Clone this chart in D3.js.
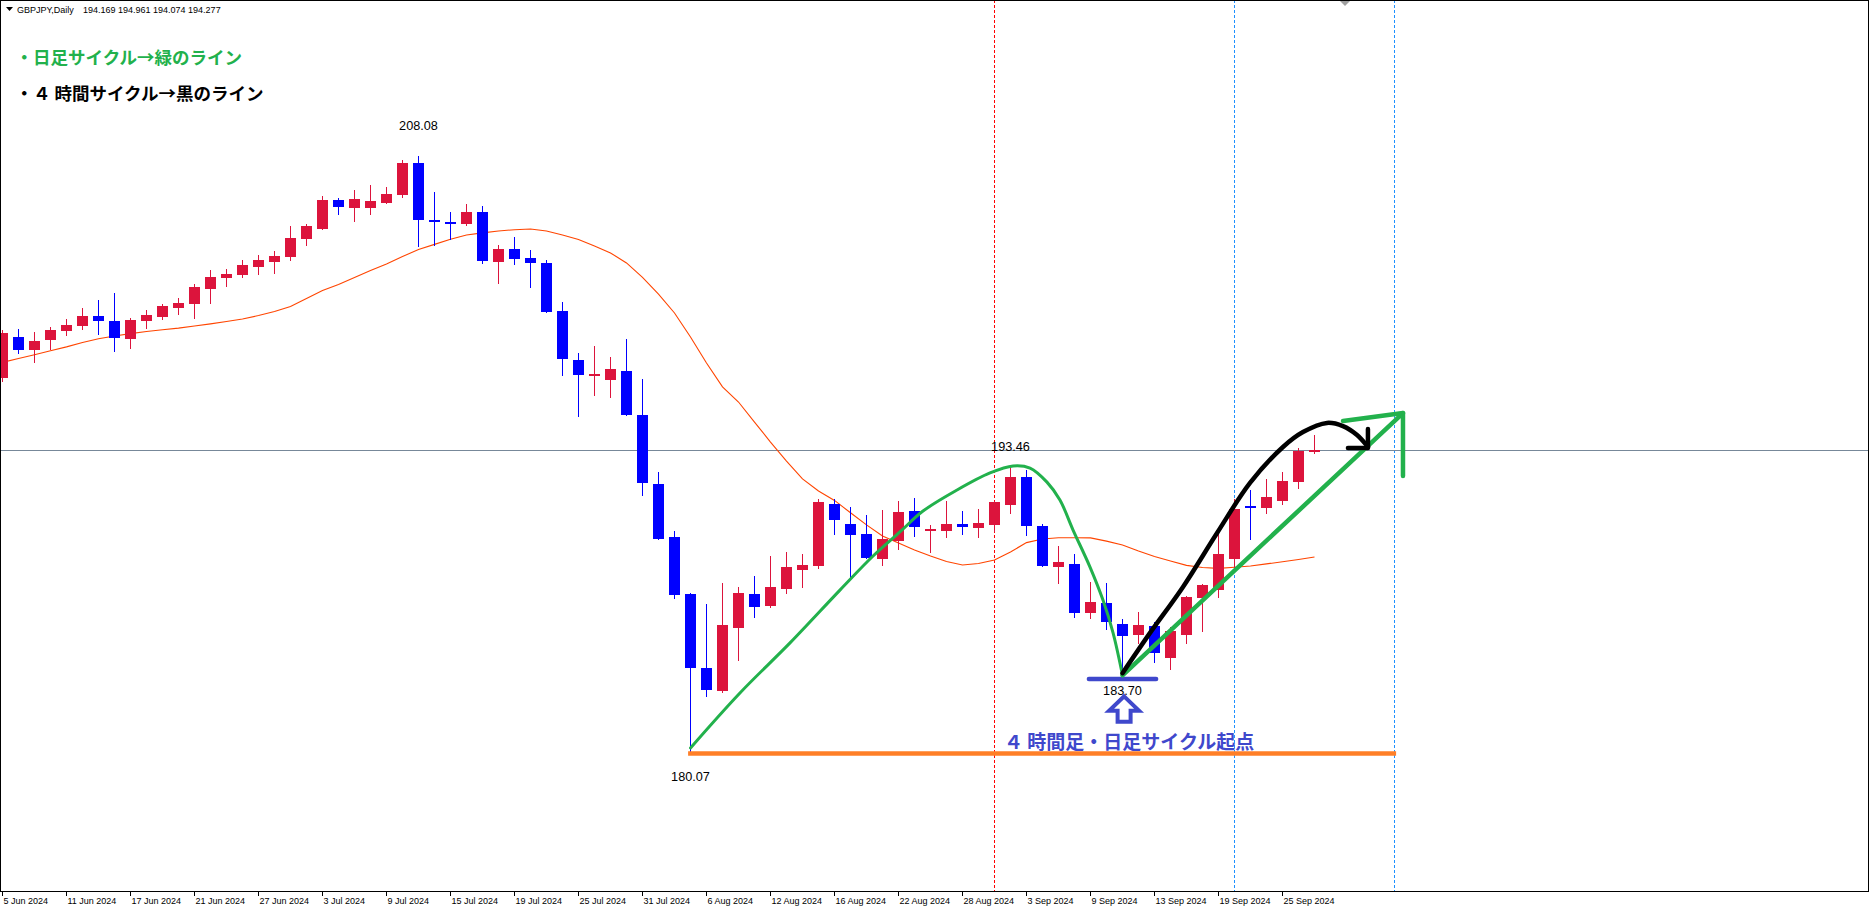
<!DOCTYPE html>
<html><head><meta charset="utf-8">
<script src="https://cdn.jsdelivr.net/npm/d3@7"></script>
<style>
html,body{margin:0;padding:0;background:#fff;overflow:hidden}
svg{display:block}
</style></head><body>
<svg id="c" width="1870" height="906"></svg>
<script>
// ---------------- DATA ----------------
const symbol = "GBPJPY,Daily";
const lastQuote = [194.169, 194.961, 194.074, 194.277];
const bidPrice = 194.277;

const dates = [
"2024-06-05","2024-06-06","2024-06-07","2024-06-10","2024-06-11","2024-06-12","2024-06-13","2024-06-14",
"2024-06-17","2024-06-18","2024-06-19","2024-06-20","2024-06-21","2024-06-24","2024-06-25","2024-06-26","2024-06-27","2024-06-28",
"2024-07-01","2024-07-02","2024-07-03","2024-07-04","2024-07-05","2024-07-08","2024-07-09","2024-07-10","2024-07-11","2024-07-12",
"2024-07-15","2024-07-16","2024-07-17","2024-07-18","2024-07-19","2024-07-22","2024-07-23","2024-07-24","2024-07-25","2024-07-26",
"2024-07-29","2024-07-30","2024-07-31","2024-08-01","2024-08-02","2024-08-05","2024-08-06","2024-08-07","2024-08-08","2024-08-09",
"2024-08-12","2024-08-13","2024-08-14","2024-08-15","2024-08-16","2024-08-19","2024-08-20","2024-08-21","2024-08-22","2024-08-23",
"2024-08-26","2024-08-27","2024-08-28","2024-08-29","2024-08-30","2024-09-02","2024-09-03","2024-09-04","2024-09-05","2024-09-06",
"2024-09-09","2024-09-10","2024-09-11","2024-09-12","2024-09-13","2024-09-16","2024-09-17","2024-09-18","2024-09-19","2024-09-20",
"2024-09-23","2024-09-24","2024-09-25","2024-09-26","2024-09-27"];

const open = [
197.64,199.58,198.99,199.46,199.88,200.11,200.57,200.33,199.50,200.35,
200.54,200.96,201.15,201.85,202.37,202.51,202.88,203.12,203.35,204.20,
204.67,206.01,205.65,205.65,205.89,206.25,207.75,205.09,204.98,204.90,
205.45,203.12,203.71,203.29,203.06,200.80,198.50,197.77,197.58,197.99,
195.92,192.68,190.19,187.52,184.04,182.98,185.93,187.52,186.97,187.77,
188.66,188.85,191.74,190.80,190.33,189.17,190.02,191.41,190.47,190.47,
190.80,190.63,190.77,191.71,193.01,190.71,188.80,188.93,186.64,187.09,
186.11,185.58,186.01,184.53,185.61,187.34,187.72,189.17,191.66,191.57,
191.90,192.79,194.169];
const high = [
199.91,199.96,199.82,200.05,200.43,200.94,201.32,201.65,200.46,200.85,
201.13,201.41,202.07,202.73,202.78,203.20,203.43,203.62,204.79,204.89,
206.20,206.11,206.48,206.72,206.62,207.89,208.08,206.39,205.45,205.83,
205.73,203.90,204.28,203.67,203.20,201.23,198.85,199.17,198.66,199.50,
197.61,193.24,190.47,187.56,187.06,188.03,187.85,188.36,189.30,189.49,
189.39,191.98,191.98,191.60,191.23,191.46,191.88,192.02,190.76,191.88,
191.41,191.51,191.90,193.46,193.34,190.80,189.77,189.39,188.08,188.03,
186.34,186.67,186.20,185.95,187.42,187.99,190.38,191.98,192.40,192.92,
193.24,194.38,194.961];
const low = [
197.47,198.78,198.36,198.99,199.63,199.91,199.68,198.89,199.03,199.96,
200.38,200.62,200.43,201.15,201.93,202.37,202.51,202.55,203.16,203.87,
204.62,205.31,205.00,205.31,205.84,206.11,203.82,203.87,204.15,204.81,
203.02,202.08,202.98,201.90,200.72,197.77,195.84,196.83,196.73,195.89,
192.13,190.05,187.30,180.07,182.69,182.88,184.39,186.40,186.87,187.53,
187.81,188.70,190.30,188.19,189.16,188.85,189.60,190.19,189.44,190.15,
190.29,190.15,190.44,191.29,190.25,188.80,188.00,186.40,186.33,185.83,
183.70,185.16,184.29,183.95,185.18,185.75,187.34,188.70,190.07,191.29,
191.71,192.46,194.074];
const close = [
199.76,198.99,199.39,199.91,200.15,200.57,200.35,199.55,200.38,200.62,
201.04,201.18,201.93,202.40,202.55,202.98,203.20,203.40,204.24,204.79,
206.01,205.70,206.06,205.97,206.30,207.75,205.09,205.04,204.89,205.45,
203.16,203.71,203.26,203.07,200.77,198.56,197.81,197.85,198.09,195.92,
192.74,190.11,187.48,184.06,183.02,186.06,187.56,186.92,187.85,188.78,
188.88,191.84,191.00,190.30,189.21,190.10,191.37,190.68,190.57,190.80,
190.66,190.85,191.84,193.02,190.72,188.85,189.02,186.64,187.14,186.22,
185.56,186.06,184.73,185.78,187.38,187.94,189.39,191.51,191.62,192.07,
192.82,194.23,194.277];
// moving average, one value per bar
const ma = [
198.39,198.57,198.75,198.94,199.12,199.32,199.50,199.63,199.74,199.84,
199.92,200.00,200.10,200.20,200.31,200.43,200.59,200.78,201.01,201.39,
201.77,202.05,202.38,202.70,203.01,203.36,203.69,203.93,204.17,204.37,
204.47,204.56,204.62,204.65,204.56,204.37,204.16,203.85,203.53,203.06,
202.38,201.60,200.71,199.58,198.36,197.24,196.53,195.59,194.65,193.76,
192.92,192.35,191.91,191.33,190.76,190.24,189.91,189.58,189.30,189.04,
188.88,188.95,189.11,189.49,189.93,190.10,190.16,190.16,190.15,190.00,
189.82,189.54,189.28,189.07,188.86,188.76,188.72,188.77,188.83,188.93,
189.03,189.14,189.25];

// labelled highs / lows
const priceLabels = [
  {i:26, p:208.08, text:"208.08"},
  {i:43, p:180.07, text:"180.07"},
  {i:63, p:193.46, text:"193.46"},
  {i:70, p:183.70, text:"183.70"}
];
const offLeftLabel = {i:-0.6, p:196.6, text:"197.43"};

// hand drawn annotations, in [bar index, price]
const dailyCycle = [[43,180.29],[46.09,182.87],[49.22,185.22],[52.34,187.70],[54.41,189.30],[56.09,190.43],
  [57.53,191.41],[59.66,192.40],[61.72,193.20],[63.16,193.53],[64.22,193.43],[65.28,192.77],[66.09,191.93],
  [66.91,190.52],[67.97,188.78],[68.78,187.23],[69.41,185.69],[70,183.70]];
const fourHourCycle = [[70,183.80],[71.72,185.69],[73.78,187.85],[75.91,190.38],[77.97,192.73],[80.03,194.42],
  [81.28,195.12],[82.78,195.55],[83.78,195.40],[84.66,194.98],[85.34,194.42]];
const fourHourHead = [[85.34,195.26],[85.34,194.37],[84.09,194.37]];
const trendLine = [[70,183.70],[87.53,196.01]];
const trendHead = [[83.78,195.64],[87.53,196.01],[87.53,193.06]];
const supportLine = [[42.85,180.03],[87.1,180.03]];
const lowMarker = [[67.9,183.53],[72.1,183.53]];
const redVLines = [62];
const blueVLines = [77, 87];
const arrowAnchor = {i:70.1, p:182.1};

const noteDaily = "・日足サイクル→緑のライン";
const noteFourHour = "・４ 時間サイクル→黒のライン";
const noteStart = "４ 時間足・日足サイクル起点";

// ---------------- DRAW ----------------
const svg = d3.select("#c");
const W = 1868, H = 891;
const xs = d3.scaleLinear().domain([0, 1]).range([2.5, 18.5]);
const ys = d3.scaleLinear().domain([173.573, 215.404]).range([H, 0]);
const CJK = "'Noto Sans CJK JP','Noto Sans',sans-serif";
const LAT = "'Liberation Sans',Arial,sans-serif";

svg.append("rect").attr("width",1870).attr("height",906).attr("fill","#fff");
svg.append("clipPath").attr("id","clip").append("rect").attr("x",1).attr("y",1).attr("width",W-1).attr("height",H-1);
const g = svg.append("g").attr("clip-path","url(#clip)");

// vertical dotted lines
g.selectAll(".rv").data(redVLines).join("line")
  .attr("x1",d=>xs(d)).attr("x2",d=>xs(d)).attr("y1",0).attr("y2",H)
  .attr("stroke","#ff0000").attr("stroke-width",1).attr("stroke-dasharray","3,2").attr("shape-rendering","crispEdges");
g.selectAll(".bv").data(blueVLines).join("line")
  .attr("x1",d=>xs(d)).attr("x2",d=>xs(d)).attr("y1",0).attr("y2",H)
  .attr("stroke","#1e90ff").attr("stroke-width",1).attr("stroke-dasharray","3,2").attr("shape-rendering","crispEdges");

// bid line
g.append("line").attr("x1",0).attr("x2",W).attr("y1",Math.round(ys(bidPrice))+0.5).attr("y2",Math.round(ys(bidPrice))+0.5)
  .attr("stroke","#778899").attr("stroke-width",1);

// moving average
g.append("path").datum(ma)
  .attr("d", d3.line().x((d,i)=>xs(i)).y(d=>ys(d)))
  .attr("fill","none").attr("stroke","#ff4500").attr("stroke-width",1.1);

// candles
const idx = d3.range(dates.length);
const up = i => close[i] >= open[i];
const colorOf = i => up(i) ? "#dc143c" : "#0000ff";
g.selectAll(".wick").data(idx).join("line")
  .attr("x1",i=>xs(i)).attr("x2",i=>xs(i))
  .attr("y1",i=>Math.round(ys(high[i]))).attr("y2",i=>Math.round(ys(low[i])))
  .attr("stroke",colorOf).attr("stroke-width",1).attr("shape-rendering","crispEdges");
g.selectAll(".body").data(idx).join("rect")
  .attr("x",i=>xs(i)-5.5).attr("width",11)
  .attr("y",i=>Math.round(ys(Math.max(open[i],close[i]))))
  .attr("height",i=>Math.max(2, Math.round(ys(Math.min(open[i],close[i]))) - Math.round(ys(Math.max(open[i],close[i])))))
  .attr("fill",colorOf).attr("shape-rendering","crispEdges");

// price labels
const labelDy = {"208.08":-26, "180.07":28.4, "193.46":-16.4, "183.70":19.7};
g.selectAll(".pl").data(priceLabels).join("text")
  .attr("x",d=>xs(d.i)).attr("y",d=>ys(d.p)+labelDy[d.text])
  .attr("text-anchor","middle").attr("font-family",LAT).attr("font-size",12.7).attr("fill","#000")
  .text(d=>d.text);
g.append("text").attr("x",xs(offLeftLabel.i)).attr("y",ys(offLeftLabel.p)+9)
  .attr("text-anchor","end").attr("font-family",LAT).attr("font-size",12.7).attr("fill","#000").text(offLeftLabel.text);

// annotations
const pl = d3.line().x(d=>xs(d[0])).y(d=>ys(d[1]));
g.append("path").datum(supportLine).attr("d",pl).attr("stroke","#ff7f27").attr("stroke-width",4.5).attr("fill","none");
g.append("path").datum(dailyCycle).attr("d",pl.curve(d3.curveCatmullRom.alpha(0.5)))
  .attr("stroke","#22b14c").attr("stroke-width",3).attr("fill","none").attr("stroke-linecap","round");
pl.curve(d3.curveLinear);
g.append("path").datum(lowMarker).attr("d",pl).attr("stroke","#3f48cc").attr("stroke-width",4.5).attr("fill","none").attr("stroke-linecap","round");
g.append("path").datum(trendLine).attr("d",pl).attr("stroke","#22b14c").attr("stroke-width",4.5).attr("fill","none").attr("stroke-linecap","round");
g.append("path").datum(trendHead).attr("d",pl).attr("stroke","#22b14c").attr("stroke-width",4.5).attr("fill","none").attr("stroke-linecap","round").attr("stroke-linejoin","round");
g.append("path").datum(fourHourCycle).attr("d",d3.line().x(d=>xs(d[0])).y(d=>ys(d[1])).curve(d3.curveCatmullRom.alpha(0.5)))
  .attr("stroke","#000").attr("stroke-width",4.5).attr("fill","none").attr("stroke-linecap","round");
g.append("path").datum(fourHourHead).attr("d",pl).attr("stroke","#000").attr("stroke-width",4.5).attr("fill","none").attr("stroke-linecap","round").attr("stroke-linejoin","round");

// hollow up arrow
const ax = xs(arrowAnchor.i), ay = ys(arrowAnchor.p);
g.append("path").attr("transform",`translate(${ax},${ay})`)
  .attr("d","M0,-13 L15,1.5 L6.5,1.5 L6.5,12.5 L-6.5,12.5 L-6.5,1.5 L-15,1.5 Z")
  .attr("fill","#fff").attr("stroke","#3f48cc").attr("stroke-width",4).attr("stroke-linejoin","miter");

g.append("text").attr("x",1004).attr("y",749).attr("font-family",CJK).attr("font-size",19).attr("font-weight","bold")
  .attr("fill","#3f48cc").text(noteStart);

// notes top-left
g.append("text").attr("x",15.5).attr("y",63.5).attr("font-family",CJK).attr("font-size",17.5).attr("font-weight","bold")
  .attr("fill","#22b14c").text(noteDaily);
g.append("text").attr("x",15.5).attr("y",99.5).attr("font-family",CJK).attr("font-size",17.5).attr("font-weight","bold")
  .attr("fill","#000").text(noteFourHour);

// header
svg.append("path").attr("d","M6,7 L13,7 L9.5,11 Z").attr("fill","#000");
svg.append("text").attr("x",17).attr("y",12.5).attr("font-family",LAT).attr("font-size",9).attr("fill","#000").text(symbol);
svg.append("text").attr("x",83).attr("y",12.5).attr("font-family",LAT).attr("font-size",9).attr("fill","#000")
  .text(lastQuote.map(v=>v.toFixed(3)).join(" "));

// chart shift marker
svg.append("path").attr("d","M1340,1 L1350,1 L1345,6 Z").attr("fill","#a0a0a0");

// frame
svg.append("rect").attr("x",0.5).attr("y",0.5).attr("width",W).attr("height",H)
  .attr("fill","none").attr("stroke","#000").attr("stroke-width",1).attr("shape-rendering","crispEdges");

// time axis
const parse = d3.timeParse("%Y-%m-%d"), fmt = d3.timeFormat("%-d %b %Y");
const axis = d3.axisBottom(xs).tickValues(d3.range(0, dates.length, 4))
  .tickFormat(i=>fmt(parse(dates[i]))).tickSize(4).offset(0);
const ga = svg.append("g").attr("transform",`translate(0,${H+0.5})`).call(axis);
ga.select(".domain").remove();
ga.selectAll(".tick line").attr("stroke","#000").attr("shape-rendering","crispEdges");
ga.selectAll(".tick text").attr("text-anchor","start").attr("x",1).attr("y",12.5).attr("dy",null)
  .attr("font-family",LAT).attr("font-size",9).attr("fill","#000");
</script>
</body></html>
